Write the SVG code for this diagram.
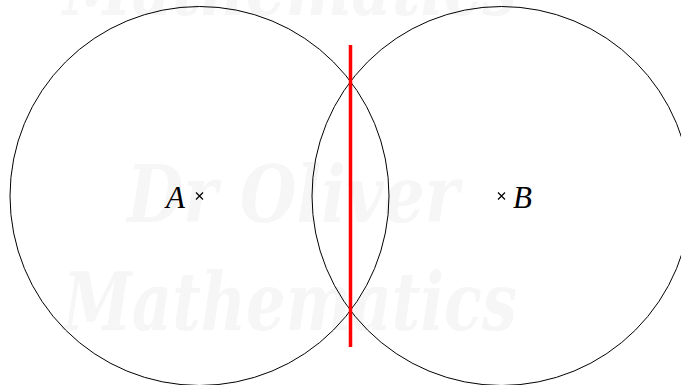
<svg xmlns="http://www.w3.org/2000/svg" width="681" height="385" viewBox="0 0 681 385">
<style>
.wm{font-family:"DejaVu Serif",serif;font-style:italic;font-weight:bold;fill:#f6f6f6}
.circ{fill:none;stroke:#000;stroke-width:1}
.lbl{font-family:"Liberation Serif",serif;font-style:italic;font-size:31px;fill:#000}
.cross{stroke:#000;stroke-width:1.2}
</style>
<rect width="681" height="385" fill="#fff"/>
<g id="watermark">
<text class="wm" x="63" y="15" font-size="80" textLength="454" lengthAdjust="spacingAndGlyphs">Mathematics</text>
<text class="wm" x="127" y="222" font-size="78" textLength="332" lengthAdjust="spacingAndGlyphs">Dr Oliver</text>
<text class="wm" x="63" y="330" font-size="80" textLength="454" lengthAdjust="spacingAndGlyphs">Mathematics</text>
</g>
<g id="circleA"><circle class="circ" cx="199.5" cy="196" r="189.5"/></g>
<g id="circleB"><circle class="circ" cx="501.5" cy="196" r="189.5"/></g>
<g id="connectors">
<line x1="350.5" y1="45" x2="350.5" y2="347" stroke="#f00" stroke-width="3.5"/>
</g>
<g id="pointA">
<path class="cross" d="M196 192.5l7 7M203 192.5l-7 7"/>
<text class="lbl" x="166" y="207.5">A</text>
</g>
<g id="pointB">
<path class="cross" d="M498 192.5l7 7M505 192.5l-7 7"/>
<text class="lbl" x="513" y="207.5">B</text>
</g>
</svg>
